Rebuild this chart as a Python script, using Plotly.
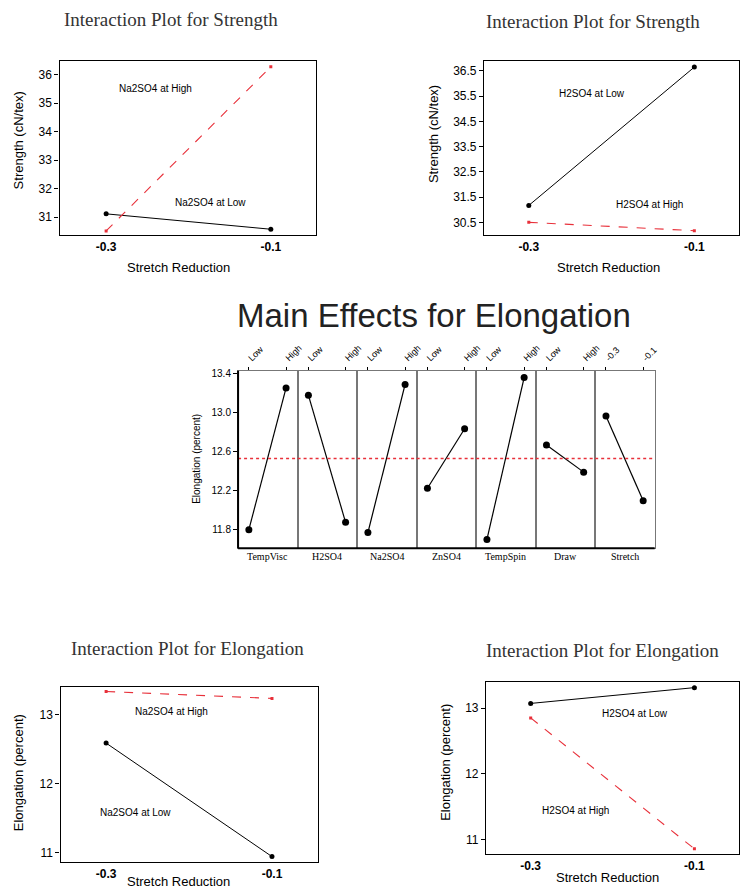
import plotly.graph_objects as go

W, H = 748, 891

# ---------------- data ----------------
stretch_levels = [-0.3, -0.1]
stretch_ticktext = ["-0.3", "-0.1"]

# Interaction plot for Strength (Na2SO4)
str_na_low = [31.12, 30.58]
str_na_high = [30.52, 36.28]
# Interaction plot for Strength (H2SO4)
str_h2_low = [31.17, 36.65]
str_h2_high = [30.50, 30.17]
# Interaction plot for Elongation (Na2SO4)
elo_na_low = [12.59, 10.94]
elo_na_high = [13.34, 13.24]
# Interaction plot for Elongation (H2SO4)
elo_h2_low = [13.07, 13.31]
elo_h2_high = [12.85, 10.86]

# Main effects for Elongation
factors = ["TempVisc", "H2SO4", "Na2SO4", "ZnSO4", "TempSpin", "Draw", "Stretch"]
factor_levels = [["Low", "High"]] * 6 + [["-0.3", "-0.1"]]
effect_low = [11.80, 13.18, 11.77, 12.225, 11.70, 12.668, 12.965]
effect_high = [13.254, 11.875, 13.29, 12.835, 13.36, 12.39, 12.096]
grand_mean = 12.53

# ---------------- helpers ----------------
def fx(px):
    return px / W

def fy(py):
    return 1 - py / H

RED = "#e8303a"
SANS = "Liberation Sans, Arial, sans-serif"
SERIF = "Liberation Serif, Times New Roman, serif"

fig = go.Figure()
layout = dict(width=W, height=H, margin=dict(l=0, r=0, t=0, b=0),
              paper_bgcolor="white", plot_bgcolor="white", showlegend=False)
annotations = []
shapes = []

def paper_text(px, py, text, font, angle=0):
    annotations.append(dict(x=fx(px), y=fy(py), xref="paper", yref="paper",
                            xanchor="center", yanchor="middle", text=text,
                            showarrow=False, textangle=angle, font=font))

def interaction_panel(idx, box, xr, yr, ytickvals, low, high, low_lbl, high_lbl,
                      title, title_pos, ytitle, ytitle_pos, xtitle_pos, ytickfmt):
    xa = "x" if idx == 1 else f"x{idx}"
    ya = "y" if idx == 1 else f"y{idx}"
    x0, y0, x1, y1 = box
    layout["xaxis" if idx == 1 else f"xaxis{idx}"] = dict(
        domain=[fx(x0), fx(x1)], range=xr, anchor=ya,
        tickvals=stretch_levels, ticktext=[f"<b>{t}</b>" for t in stretch_ticktext],
        tickfont=dict(family=SANS, size=12, color="black"),
        showline=True, mirror=True, linecolor="black", linewidth=1.3,
        ticks="", showgrid=False, zeroline=False)
    layout["yaxis" if idx == 1 else f"yaxis{idx}"] = dict(
        domain=[fy(y1), fy(y0)], range=yr, anchor=xa,
        tickvals=ytickvals, ticktext=[ytickfmt.format(v) for v in ytickvals],
        tickfont=dict(family=SANS, size=12, color="black"),
        showline=True, mirror=True, linecolor="black", linewidth=1.3,
        ticks="outside", ticklen=4, tickcolor="black",
        showgrid=False, zeroline=False)
    fig.add_trace(go.Scatter(x=stretch_levels, y=low, xaxis=xa, yaxis=ya,
                             mode="lines+markers",
                             line=dict(color="black", width=1),
                             marker=dict(color="black", size=5)))
    fig.add_trace(go.Scatter(x=stretch_levels, y=high, xaxis=xa, yaxis=ya,
                             mode="lines+markers",
                             line=dict(color=RED, width=1.1, dash="dash"),
                             marker=dict(color=RED, size=3, symbol="square")))
    for txt, (lx, ly) in (low_lbl, high_lbl):
        annotations.append(dict(x=lx, y=ly, xref=xa, yref=ya, text=txt,
                                xanchor="center", yanchor="middle",
                                showarrow=False,
                                font=dict(family=SANS, size=10, color="black")))
    paper_text(*title_pos, title, dict(family=SERIF, size=19, color="#333333"))
    paper_text(*ytitle_pos, ytitle, dict(family=SANS, size=13, color="black"), -90)
    paper_text(*xtitle_pos, "Stretch Reduction", dict(family=SANS, size=13, color="black"))

interaction_panel(1, (60, 58, 319, 233), [-0.3566, -0.0446], [30.37, 36.49],
                  [31, 32, 33, 34, 35, 36], str_na_low, str_na_high,
                  ("Na2SO4 at Low", (-0.173, 31.52)), ("Na2SO4 at High", (-0.24, 35.51)),
                  "Interaction Plot for Strength", (172, 17),
                  "Strength (cN/tex)", (19, 138), (180, 265), "{:g}")

interaction_panel(2, (488, 58, 745, 233), [-0.354, -0.046], [29.99, 36.9],
                  [30.5, 31.5, 32.5, 33.5, 34.5, 35.5, 36.5], str_h2_low, str_h2_high,
                  ("H2SO4 at Low", (-0.2233, 35.59)), ("H2SO4 at High", (-0.154, 31.21)),
                  "Interaction Plot for Strength", (598, 19),
                  "Strength (cN/tex)", (437, 131), (613, 265), "{:.1f}")

interaction_panel(3, (61, 686, 321, 862), [-0.355, -0.044], [10.86, 13.41],
                  [11, 12, 13], elo_na_low, elo_na_high,
                  ("Na2SO4 at Low", (-0.264, 11.58)), ("Na2SO4 at High", (-0.2216, 13.05)),
                  "Interaction Plot for Elongation", (189, 648),
                  "Elongation (percent)", (19, 772), (180, 881), "{:g}")

interaction_panel(4, (490, 681, 745, 854), [-0.3545, -0.0455], [10.78, 13.40],
                  [11, 12, 13], elo_h2_low, elo_h2_high,
                  ("H2SO4 at Low", (-0.172, 12.92)), ("H2SO4 at High", (-0.245, 11.45)),
                  "Interaction Plot for Elongation", (607, 650),
                  "Elongation (percent)", (449, 762), (612, 877), "{:g}")

# ---------------- main effects ----------------
mx0, my0, mx1, my1 = 240, 369, 660, 547
pw = (mx1 - mx0) / len(factors)
yrange = [11.61, 13.43]
for k, name in enumerate(factors):
    n = 5 + k
    xa, ya = f"x{n}", f"y{n}"
    d0, d1 = mx0 + k * pw, mx0 + (k + 1) * pw
    layout[f"xaxis{n}"] = dict(
        domain=[fx(d0), fx(d1)], range=[-0.29, 1.31], anchor=ya, side="top",
        tickvals=[0, 1], ticktext=factor_levels[k], tickangle=-45,
        tickfont=dict(family=SANS, size=9, color="black"),
        ticks="outside", ticklen=3, tickcolor="black",
        showline=True, mirror=True, linecolor="#777777", linewidth=1.2,
        showgrid=False, zeroline=False)
    layout[f"yaxis{n}"] = dict(
        domain=[fy(my1), fy(my0)], range=yrange, anchor=xa,
        showline=True, mirror=True, linecolor="#777777", linewidth=1.2,
        showgrid=False, zeroline=False,
        showticklabels=(k == 0),
        tickvals=[11.8, 12.2, 12.6, 13.0, 13.4] if k == 0 else [],
        ticktext=["11.8", "12.2", "12.6", "13.0", "13.4"] if k == 0 else [],
        ticks="outside" if k == 0 else "", ticklen=4, tickcolor="black",
        tickfont=dict(family=SANS, size=10, color="black"))
    shapes.append(dict(type="line", xref="paper", yref=ya, x0=fx(d0), x1=fx(d1),
                       y0=grand_mean, y1=grand_mean,
                       line=dict(color=RED, width=1.3, dash="dot")))
    fig.add_trace(go.Scatter(x=[0, 1], y=[effect_low[k], effect_high[k]],
                             xaxis=xa, yaxis=ya, mode="lines+markers",
                             line=dict(color="black", width=1.2),
                             marker=dict(color="black", size=7)))
    paper_text((d0 + d1) / 2, 555, name, dict(family=SERIF, size=10, color="black"))

# thick left and bottom frame lines
shapes.append(dict(type="line", xref="paper", yref="paper", x0=fx(mx0), x1=fx(mx0),
                   y0=fy(my1), y1=fy(my0), line=dict(color="black", width=2)))
shapes.append(dict(type="line", xref="paper", yref="paper", x0=fx(mx0), x1=fx(mx1),
                   y0=fy(my1), y1=fy(my1), line=dict(color="black", width=2)))

paper_text(438, 314, "Main Effects for Elongation",
           dict(family=SANS, size=33, color="#222222"))
paper_text(198, 457, "Elongation (percent)", dict(family=SANS, size=10, color="black"), -90)

layout["annotations"] = annotations
layout["shapes"] = shapes
fig.update_layout(**layout)
fig.write_html("out.html")
